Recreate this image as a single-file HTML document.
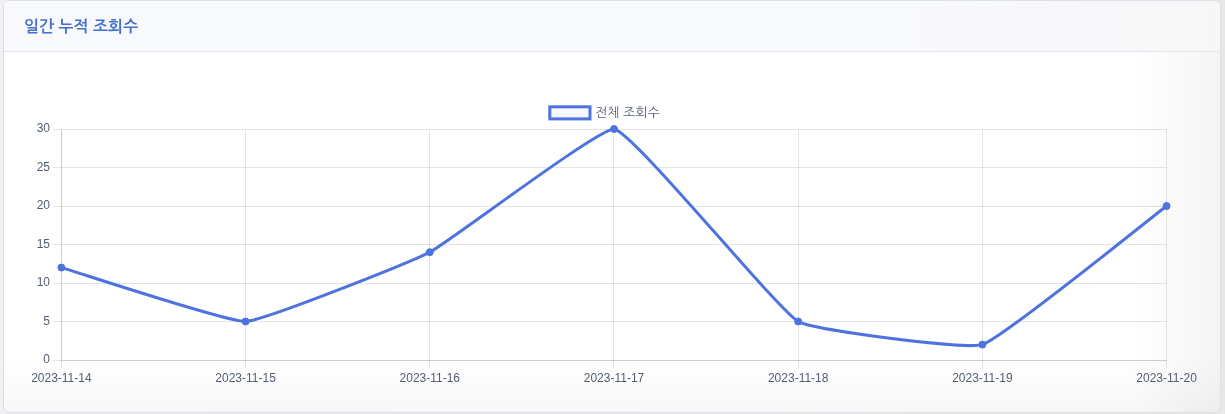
<!DOCTYPE html>
<html lang="ko"><head><meta charset="utf-8"><title>일간 누적 조회수</title>
<style>
html,body{margin:0;padding:0;width:1225px;height:414px;overflow:hidden;background:linear-gradient(to right,#f1f1f3,#ececee 60%,#e8e8e8);}
.card{position:absolute;left:3px;top:0;width:1216px;height:411px;border:1px solid #dcdfea;border-radius:6px;background:linear-gradient(to right, rgba(0,0,0,0) 1125px, rgba(0,0,0,0.038) 1216px),linear-gradient(to bottom, rgba(0,0,0,0) 355px, rgba(0,0,0,0.03) 411px),#fff;box-shadow:none;overflow:hidden;}
.card-header{position:absolute;left:0;top:0;right:0;height:50px;background:linear-gradient(to right,#f8f9fc 75%,#f7f7f8);border-bottom:1px solid #e3e6f0;}
.card-header h6{margin:0;position:absolute;left:20px;top:16px;font-family:"Liberation Sans","NanumGothic",sans-serif;font-size:16px;font-weight:700;color:#4270cc;line-height:19px;}
.chart{position:absolute;left:0;top:0;}
</style></head><body>
<div class="card"><div class="card-header"><h6>일간 누적 조회수</h6></div></div>
<svg class="chart" width="1225" height="414" viewBox="0 0 1225 414"><g stroke="rgba(0,0,0,0.1)" stroke-width="1" shape-rendering="crispEdges"><line x1="53" y1="360.5" x2="1167.1" y2="360.5" /><line x1="53" y1="321.5" x2="1167.1" y2="321.5" /><line x1="53" y1="283.5" x2="1167.1" y2="283.5" /><line x1="53" y1="244.5" x2="1167.1" y2="244.5" /><line x1="53" y1="206.5" x2="1167.1" y2="206.5" /><line x1="53" y1="167.5" x2="1167.1" y2="167.5" /><line x1="53" y1="129.5" x2="1167.1" y2="129.5" /><line x1="61.5" y1="129.5" x2="61.5" y2="367.5" /><line x1="245.5" y1="129.5" x2="245.5" y2="367.5" /><line x1="429.5" y1="129.5" x2="429.5" y2="367.5" /><line x1="613.5" y1="129.5" x2="613.5" y2="367.5" /><line x1="798.5" y1="129.5" x2="798.5" y2="367.5" /><line x1="982.5" y1="129.5" x2="982.5" y2="367.5" /><line x1="1166.5" y1="129.5" x2="1166.5" y2="367.5" /></g><g stroke="rgba(0,0,0,0.1)" stroke-width="1"><line x1="61.5" y1="129.5" x2="61.5" y2="360.5"/><line x1="61.4" y1="360.5" x2="1166.6" y2="360.5"/></g><g fill="#525e70" font-family="Liberation Sans, Arial, sans-serif" font-size="12"><text x="50" y="363.3" text-anchor="end">0</text><text x="50" y="324.8" text-anchor="end">5</text><text x="50" y="286.3" text-anchor="end">10</text><text x="50" y="247.8" text-anchor="end">15</text><text x="50" y="209.3" text-anchor="end">20</text><text x="50" y="170.8" text-anchor="end">25</text><text x="50" y="132.3" text-anchor="end">30</text><text x="61.4" y="382" text-anchor="middle">2023-11-14</text><text x="245.6" y="382" text-anchor="middle">2023-11-15</text><text x="429.8" y="382" text-anchor="middle">2023-11-16</text><text x="614.0" y="382" text-anchor="middle">2023-11-17</text><text x="798.2" y="382" text-anchor="middle">2023-11-18</text><text x="982.4" y="382" text-anchor="middle">2023-11-19</text><text x="1166.6" y="382" text-anchor="middle">2023-11-20</text></g><rect x="549.8" y="106.8" width="40.2" height="12.1" fill="rgba(78,115,223,0.05)" stroke="#4e73df" stroke-width="3"/>
<text x="595" y="116.5" fill="#525e70" font-family="Liberation Sans, NanumGothic, sans-serif" font-size="13">전체 조회수</text><path d="M61.40 267.60 C79.82 272.99 227.41 322.26 245.60 321.50 C264.25 320.72 412.47 261.25 429.80 252.20 C449.31 242.00 597.27 129.00 614.00 129.00 C634.11 132.78 776.49 308.79 798.20 321.50 C813.33 330.35 965.97 349.75 982.40 344.60 C1002.81 338.20 1148.18 219.86 1166.60 206.00" fill="none" stroke="#4e73df" stroke-width="3" /><circle cx="61.40" cy="267.60" r="3.5" fill="#4e73df" stroke="#4e73df" stroke-width="1"/><circle cx="245.60" cy="321.50" r="3.5" fill="#4e73df" stroke="#4e73df" stroke-width="1"/><circle cx="429.80" cy="252.20" r="3.5" fill="#4e73df" stroke="#4e73df" stroke-width="1"/><circle cx="614.00" cy="129.00" r="3.5" fill="#4e73df" stroke="#4e73df" stroke-width="1"/><circle cx="798.20" cy="321.50" r="3.5" fill="#4e73df" stroke="#4e73df" stroke-width="1"/><circle cx="982.40" cy="344.60" r="3.5" fill="#4e73df" stroke="#4e73df" stroke-width="1"/><circle cx="1166.60" cy="206.00" r="3.5" fill="#4e73df" stroke="#4e73df" stroke-width="1"/></svg>
</body></html>
